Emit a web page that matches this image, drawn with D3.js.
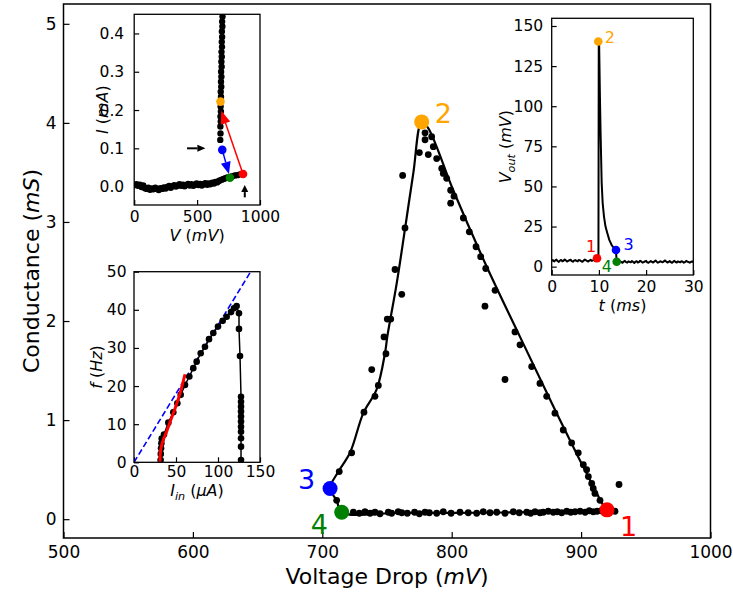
<!DOCTYPE html>
<html><head><meta charset="utf-8">
<script src="https://cdn.jsdelivr.net/npm/d3@7"></script>
<style>
body{margin:0;background:#fff;}
svg{display:block;font-family:"DejaVu Sans",sans-serif;}
</style></head><body>
<svg id="chart" width="733" height="597"></svg>
<script>
// ---------------- DATA ----------------
// Main plot: conductance loop (fit line, 1 -> 2 -> 3 -> 4 -> 1)
const loopV = [920.0, 918.5, 904.3, 878.5, 852.8, 827.0, 801.2, 781.7, 776.8, 770.3, 763.8, 757.5, 750.2, 748.5, 742.0, 731.7, 721.4, 712.4, 706.0, 711.1, 715.0, 760, 820, 880, 920.0];
const loopG = [0.09, 0.11, 0.46, 1.14, 1.84, 2.55, 3.32, 3.95, 4.01, 3.49, 2.92, 2.38, 1.84, 1.68, 1.31, 1.07, 0.67, 0.48, 0.31, 0.19, 0.07, 0.065, 0.065, 0.075, 0.09];
// Main plot: measured points
const dotV = [779.4,781.9,775.0,785.8,788.4,792.3,793.5,796.1,799.2,801.8,799.2,809.0,813.6,818.8,822.4,826.3,833.5,825.7,779.4,784.5,
  848.9,852.8,841.2,861.8,868.2,873.4,879.8,886.2,892.7,897.8,901.7,904.3,905.6,908.2,909.4,910.7,914.6,929.3,
  762.1,763.9,756.2,761.4,750.2,752.9,747.7,749.2,738.2,743.3,740.7,732.2,722.7,713.1,711.1,
  724.0,728.6,733.0,736.9,740.7,744.6,751.0,753.6,758.7,761.4,765.7,771.3,775.0,779.4,782.7,788.4,793.5,799.5,806.4,812.8,
  819.3,824.4,829.6,834.8,841.2,847.6,852.2,858.0,861.0,864.4,868.2,870.8,874.6,878.5,881.6,885.0,888.9,892.0,895.3,899.2,
  903.1,906.3,909.4,912.3,915.4,926.2];
const dotG = [3.83,3.68,3.70,3.76,3.64,3.54,3.49,3.44,3.32,3.26,3.19,3.04,2.90,2.75,2.65,2.53,2.31,2.15,3.90,3.86,
  1.89,1.76,1.41,1.54,1.37,1.24,1.07,0.90,0.77,0.67,0.55,0.50,0.43,0.36,0.31,0.26,0.19,0.35,
  3.47,2.94,2.52,2.27,2.02,2.02,1.84,1.67,1.51,1.35,1.24,1.08,0.67,0.48,0.19,
  0.07,0.06,0.075,0.06,0.07,0.055,0.07,0.06,0.075,0.065,0.06,0.07,0.055,0.07,0.065,0.06,0.075,0.06,0.07,0.065,
  0.06,0.075,0.065,0.07,0.06,0.075,0.065,0.07,0.06,0.075,0.065,0.07,0.08,0.07,0.075,0.065,0.08,0.07,0.075,0.08,
  0.07,0.085,0.075,0.08,0.085,0.08];
// Main plot: labelled states 1..4
const stateLabels = ["1", "2", "3", "4"];
const stateColors = ["#ff0000", "#ffa500", "#0000ff", "#008000"];
const stateV = [920.0, 776.8, 706.0, 715.0];
const stateG = [0.094, 4.01, 0.31, 0.07];
const mainXTicks = [500, 600, 700, 800, 900, 1000];
const mainYTicks = [0, 1, 2, 3, 4, 5];

// Inset 1: I-V curve
const ivV = [5,18,30,45,58,72,85,100,112,126,140,152,168,180,195,208,222,236,250,262,278,290,305,318,332,346,360,372,388,400,414,428,442,455,470,482,496,510,524,538,552,565,580,592,606,620,634,646,658,670,
  680,695,710,725,740,780,800,820,840,860,
  702,699,701,697,699,696,698,694,696,693,695,691,693,690,692,688,690,687,689,686,688,685,686,684];
const ivI = [0.004,0.006,0.002,0.005,-0.001,0.003,-0.004,-0.006,-0.003,-0.008,-0.005,-0.007,-0.003,-0.006,-0.009,-0.004,-0.006,-0.002,-0.005,-0.001,0.002,-0.003,0.001,0.004,0.000,0.003,0.006,0.002,0.005,0.001,0.004,0.007,0.003,0.006,0.002,0.005,0.008,0.004,0.007,0.003,0.006,0.009,0.005,0.008,0.006,0.010,0.008,0.012,0.011,0.014,
  0.016,0.018,0.020,0.022,0.024,0.027,0.029,0.030,0.032,0.033,
  0.444,0.431,0.418,0.405,0.391,0.378,0.365,0.352,0.339,0.326,0.313,0.300,0.287,0.274,0.261,0.248,0.235,0.209,0.196,0.183,0.170,0.157,0.139,0.122];
const ivStateV = [865, 686, 700, 761];
const ivStateI = [0.033, 0.222, 0.096, 0.023];
const ivXTicks = [0, 500, 1000];
const ivYTicks = [0, 0.1, 0.2, 0.3, 0.4];

// Inset 2: f-I curve
const fiI = [31.7,31.9,32.2,32.6,33.0,35.7,40.9,46.8,51.6,55.6,60.7,65.9,70.6,74.6,79.4,84.5,89.3,94.4,100.0,105.6,110.3,115.5,119.0,122.2,125.0,125.0,126.2,
  127.4,127.4,127.4,127.4,127.4,127.4,127.4,127.4,127.4,127.4,127.4];
const fiF = [0.6,2.2,3.7,5.0,6.2,7.3,10.4,13.1,15.5,17.7,20.3,22.5,24.7,26.4,28.6,30.3,32.3,33.9,35.6,37.1,38.2,39.4,40.4,41.0,39.1,35.0,27.9,
  17.2,15.9,14.6,13.3,12.0,10.7,9.3,8.0,6.3,4.1,0.6];
const fitRedI = [31.0, 31.3, 32.5, 34.9, 38.9, 44.0, 49.6, 54.8, 60.7];
const fitRedF = [0.0, 2.4, 4.1, 5.9, 8.1, 11.2, 14.6, 18.1, 23.1];
const fitBlueI = [0, 140];
const fitBlueF = [0, 50.4];
const fiXTicks = [0, 50, 100, 150];
const fiYTicks = [0, 10, 20, 30, 40, 50];

// Inset 3: output voltage trace
const sampleStep = 0.25;
const preStart = 0;
const vPre = [3.6,4.1,3.3,3.9,4.4,3.5,3.0,3.8,4.2,3.4,3.7,4.5,3.9,3.2,3.6,4.0,4.3,3.5,3.1,3.8,4.1,3.6,3.3,4.2,3.9,3.4,3.0,3.7,4.4,4.0,3.5,3.2,3.8,4.3,3.6,3.9,4.5,3.4,3.8,4.2];
const spikeT = [9.9, 9.97, 10.05, 10.23, 10.36, 10.59, 10.8, 11.08, 11.4, 11.79, 12.2, 12.7, 13.2, 13.62, 13.75];
const spikeV = [4.5, 140, 139, 104, 83, 52, 39.6, 31.2, 25, 20.8, 16.7, 13.5, 11.4, 10.4, 3.2];
const postStart = 14.0;
const vPost = [3.1,2.6,3.4,2.9,2.4,3.2,3.6,2.8,2.5,3.3,3.0,2.7,3.5,2.9,2.3,3.1,3.4,2.6,2.9,3.7,3.2,2.5,2.8,3.3,3.6,2.7,2.4,3.0,3.5,2.9,2.6,3.2,3.8,3.1,2.5,2.8,3.4,3.0,2.7,3.3,3.9,3.2,2.6,2.9,3.5,2.8,2.4,3.1,3.6,2.9,2.6,3.3,3.0,2.7,3.4,3.1,2.5,2.9,3.6,3.2,2.8,2.5,3.0,3.3,2.7];
const trStateT = [9.6, 9.87, 13.62, 13.77];
const trStateV = [5.2, 140.3, 10.4, 3.1];
const trXTicks = [0, 10, 20, 30];
const trYTicks = [0, 25, 50, 75, 100, 125, 150];

// ---------------- DRAWING ----------------
const svg = d3.select('#chart');
svg.append('rect').attr('width', 733).attr('height', 597).attr('fill', '#fff');
const FONT = 'DejaVu Sans';

function zip(a, b) { return a.map((v, i) => [v, b[i]]); }

function styleAxis(g, fs) {
  g.select('.domain').remove();
  g.attr('font-size', fs).attr('font-family', FONT);
  g.selectAll('text').attr('fill', '#000');
  g.selectAll('line').attr('stroke', '#000').attr('stroke-width', 1.2);
}

function addLabel(parent, x, y, rot, parts, fs) {
  const t = parent.append('text')
    .attr('transform', `translate(${x},${y}) rotate(${rot})`)
    .attr('text-anchor', 'middle').attr('font-size', fs).attr('font-family', FONT).attr('fill', '#000');
  parts.forEach(p => {
    const s = t.append('tspan').text(p.t);
    if (p.i) s.attr('font-style', 'italic');
    if (p.sub) s.attr('font-size', fs * 0.7).attr('dy', fs * 0.28);
    if (p.unsub) s.attr('dy', -fs * 0.28);
  });
  return t;
}

function arrow(g, x1, y1, x2, y2, color, w, hl, hw) {
  const dx = x2 - x1, dy = y2 - y1, L = Math.hypot(dx, dy);
  const ux = dx / L, uy = dy / L;
  const bx = x2 - ux * hl, by = y2 - uy * hl;
  g.append('line').attr('x1', x1).attr('y1', y1).attr('x2', bx).attr('y2', by)
    .attr('stroke', color).attr('stroke-width', w);
  g.append('path').attr('d',
    `M${x2},${y2}L${bx - uy * hw / 2},${by + ux * hw / 2}L${bx + uy * hw / 2},${by - ux * hw / 2}Z`)
    .attr('fill', color);
}

// ===== Main axes =====
const X0 = 63.5, X1 = 710.5, Y0 = 4, Y1 = 538;
const mx = d3.scaleLinear().domain([500, 1000]).range([X0, X1]);
const my = d3.scaleLinear().domain([-0.19, 5.2]).range([Y1, Y0]);
const main = svg.append('g');

const gx = main.append('g').attr('transform', `translate(0,${Y1})`)
  .call(d3.axisBottom(mx).tickValues(mainXTicks).tickSizeInner(-6).tickSizeOuter(0).tickPadding(8).tickFormat(d3.format('d')));
styleAxis(gx, 17);
const gy = main.append('g').attr('transform', `translate(${X0},0)`)
  .call(d3.axisLeft(my).tickValues(mainYTicks).tickSizeInner(-6).tickSizeOuter(0).tickPadding(7).tickFormat(d3.format('d')));
styleAxis(gy, 17);

main.append('path').datum(zip(loopV, loopG))
  .attr('d', d3.line().x(d => mx(d[0])).y(d => my(d[1])).curve(d3.curveCatmullRom.alpha(0.5)))
  .attr('fill', 'none').attr('stroke', '#000').attr('stroke-width', 2.2).attr('stroke-linejoin', 'round');

main.append('g').selectAll('circle').data(zip(dotV, dotG)).join('circle')
  .attr('cx', d => mx(d[0])).attr('cy', d => my(d[1])).attr('r', 3.4).attr('fill', '#000');

main.append('g').selectAll('circle').data(stateV.map((v, i) => ({ v, g: stateG[i], c: stateColors[i] }))).join('circle')
  .attr('cx', d => mx(d.v)).attr('cy', d => my(d.g)).attr('r', 7.5).attr('fill', d => d.c);

const mainLabOff = [[-1, 26], [13, 1], [-32, 1], [-31, 22]];
stateLabels.forEach((s, i) => {
  main.append('text').attr('x', mx(stateV[i]) + (i === 0 ? 13 : mainLabOff[i][0]))
    .attr('y', my(stateG[i]) + mainLabOff[i][1])
    .attr('font-size', 27).attr('font-family', FONT).attr('fill', stateColors[i]).text(s);
});

main.append('rect').attr('x', X0).attr('y', Y0).attr('width', X1 - X0).attr('height', Y1 - Y0)
  .attr('fill', 'none').attr('stroke', '#000').attr('stroke-width', 1.5);

addLabel(main, 39, (Y0 + Y1) / 2, -90, [{ t: 'Conductance (' }, { t: 'mS', i: 1 }, { t: ')' }], 22);
addLabel(main, (X0 + X1) / 2, 584, 0, [{ t: 'Voltage Drop (' }, { t: 'mV', i: 1 }, { t: ')' }], 22);

// ===== Inset helper =====
function inset(x0, x1, y0, y1, xd, yd, xt, yt, yfmt, padY, padX) {
  const g = svg.append('g');
  const sx = d3.scaleLinear().domain(xd).range([x0, x1]);
  const sy = d3.scaleLinear().domain(yd).range([y1, y0]);
  g.append('rect').attr('x', x0).attr('y', y0).attr('width', x1 - x0).attr('height', y1 - y0).attr('fill', '#fff');
  const id = 'clip' + Math.round(x0) + Math.round(y0);
  svg.append('clipPath').attr('id', id).append('rect').attr('x', x0).attr('y', y0).attr('width', x1 - x0).attr('height', y1 - y0);
  const ax = g.append('g').attr('transform', `translate(0,${y1})`)
    .call(d3.axisBottom(sx).tickValues(xt).tickSizeInner(-5).tickSizeOuter(0).tickPadding(padX).tickFormat(d3.format('d')));
  styleAxis(ax, 15.5);
  const ay = g.append('g').attr('transform', `translate(${x0},0)`)
    .call(d3.axisLeft(sy).tickValues(yt).tickSizeInner(-5).tickSizeOuter(0).tickPadding(padY).tickFormat(yfmt));
  styleAxis(ay, 15.5);
  const plot = g.append('g').attr('clip-path', `url(#${id})`);
  const top = g.append('g');
  top.append('rect').attr('x', x0).attr('y', y0).attr('width', x1 - x0).attr('height', y1 - y0)
    .attr('fill', 'none').attr('stroke', '#000').attr('stroke-width', 1.3);
  return { g, sx, sy, plot, top };
}

// ===== Inset 1: I-V =====
const i1 = inset(134.2, 260, 14.3, 205, [0, 1000], [-0.048, 0.45], ivXTicks, ivYTicks, d3.format('.1f'), 10, 6);
i1.plot.append('g').selectAll('circle').data(zip(ivV, ivI)).join('circle')
  .attr('cx', d => i1.sx(d[0])).attr('cy', d => i1.sy(d[1])).attr('r', 3.2).attr('fill', '#000');
// arrows
arrow(i1.plot, i1.sx(ivStateV[0]), i1.sy(ivStateI[0]), i1.sx(692), i1.sy(0.198), '#ff0000', 1.5, 13, 10);
arrow(i1.plot, i1.sx(ivStateV[2]), i1.sy(ivStateI[2]), i1.sx(753), i1.sy(0.033), '#0000ff', 1.5, 12, 10);
i1.plot.selectAll('circle.st').data([1, 0, 2, 3]).join('circle').attr('class', 'st')
  .attr('cx', i => i1.sx(ivStateV[i])).attr('cy', i => i1.sy(ivStateI[i])).attr('r', 4.3).attr('fill', i => stateColors[i]);
arrow(i1.top, i1.sx(420), i1.sy(0.1), i1.sx(566), i1.sy(0.1), '#000', 2, 8, 7);
arrow(i1.top, i1.sx(879), i1.sy(-0.028), i1.sx(879), i1.sy(0.004), '#000', 2, 7, 7);
addLabel(i1.g, 108, (14.3 + 205) / 2, -90, [{ t: 'I', i: 1 }, { t: ' (' }, { t: 'mA', i: 1 }, { t: ')' }], 16);
addLabel(i1.g, (134.2 + 260) / 2, 241, 0, [{ t: 'V', i: 1 }, { t: ' (' }, { t: 'mV', i: 1 }, { t: ')' }], 16);

// ===== Inset 2: f-I =====
const i2 = inset(134, 260, 271.7, 462.3, [0, 150], [0, 50], fiXTicks, fiYTicks, d3.format('d'), 7.5, 4);
i2.plot.append('path').datum(zip(fitBlueI, fitBlueF))
  .attr('d', d3.line().x(d => i2.sx(d[0])).y(d => i2.sy(d[1])))
  .attr('fill', 'none').attr('stroke', '#0000ff').attr('stroke-width', 1.6).attr('stroke-dasharray', '6,3');
i2.plot.append('path').datum(zip(fiI, fiF))
  .attr('d', d3.line().x(d => i2.sx(d[0])).y(d => i2.sy(d[1])))
  .attr('fill', 'none').attr('stroke', '#000').attr('stroke-width', 1.5);
i2.plot.append('g').selectAll('circle').data(zip(fiI, fiF)).join('circle')
  .attr('cx', d => i2.sx(d[0])).attr('cy', d => i2.sy(d[1])).attr('r', 3.3).attr('fill', '#000');
i2.plot.append('path').datum(zip(fitRedI, fitRedF))
  .attr('d', d3.line().x(d => i2.sx(d[0])).y(d => i2.sy(d[1])).curve(d3.curveCatmullRom))
  .attr('fill', 'none').attr('stroke', '#ff0000').attr('stroke-width', 3);
addLabel(i2.g, 102, (271.7 + 462.3) / 2, -90, [{ t: 'f', i: 1 }, { t: ' (' }, { t: 'Hz', i: 1 }, { t: ')' }], 16);
addLabel(i2.g, (134 + 260) / 2, 496, 0, [{ t: 'I', i: 1 }, { t: 'in', i: 1, sub: 1 }, { t: ' (', unsub: 1 }, { t: 'μA', i: 1 }, { t: ')' }], 16);

// ===== Inset 3: Vout trace =====
const i3 = inset(551.7, 693.3, 18.3, 275, [0, 30], [-5.2, 154.8], trXTicks, trYTicks, d3.format('d'), 8.5, 6);
const trace = vPre.map((v, k) => [preStart + k * sampleStep, v])
  .concat(zip(spikeT, spikeV))
  .concat(vPost.map((v, k) => [postStart + k * sampleStep, v]));
i3.plot.append('path').datum(trace)
  .attr('d', d3.line().x(d => i3.sx(d[0])).y(d => i3.sy(d[1])))
  .attr('fill', 'none').attr('stroke', '#000').attr('stroke-width', 2).attr('stroke-linejoin', 'round');
i3.plot.selectAll('circle.st').data([0, 1, 2, 3]).join('circle').attr('class', 'st')
  .attr('cx', i => i3.sx(trStateT[i])).attr('cy', i => i3.sy(trStateV[i])).attr('r', 4.3).attr('fill', i => stateColors[i]);
const trLabOff = [[-11, -6], [6.5, 1.5], [7.5, 0], [-15, 10]];
stateLabels.forEach((s, i) => {
  i3.top.append('text').attr('x', i3.sx(trStateT[i]) + trLabOff[i][0]).attr('y', i3.sy(trStateV[i]) + trLabOff[i][1])
    .attr('font-size', 16).attr('font-family', FONT).attr('fill', stateColors[i]).text(s);
});
addLabel(i3.g, 511, (18.3 + 275) / 2, -90, [{ t: 'V', i: 1 }, { t: 'out', i: 1, sub: 1 }, { t: ' (', unsub: 1 }, { t: 'mV', i: 1 }, { t: ')' }], 16);
addLabel(i3.g, (551.7 + 693.3) / 2, 311, 0, [{ t: 't', i: 1 }, { t: ' (' }, { t: 'ms', i: 1 }, { t: ')' }], 16);
</script>
</body></html>
